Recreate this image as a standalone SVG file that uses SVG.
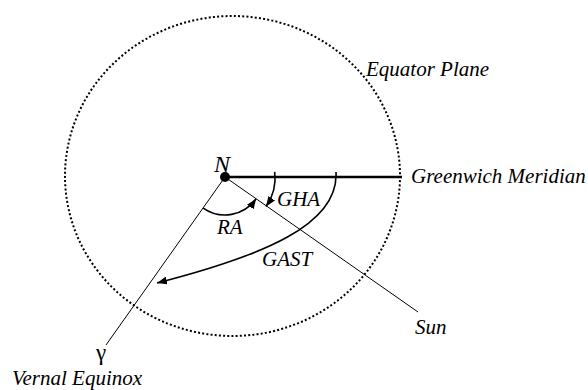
<svg xmlns="http://www.w3.org/2000/svg" width="588" height="390" viewBox="0 0 588 390">
<defs>
<marker id="ah" viewBox="0 0 10 8" refX="10" refY="4" markerWidth="10" markerHeight="8" markerUnits="userSpaceOnUse" orient="auto">
<path d="M0,0 L10,4 L0,8 Z" fill="#000"/>
</marker>
<style>
.t{font-family:"Liberation Serif","Times New Roman",serif;font-style:italic;font-size:21px;fill:#000}
.thin{stroke:#000;stroke-width:1;fill:none}
.arc{stroke:#000;stroke-width:1.6;fill:none}
</style>
</defs>
<rect width="588" height="390" fill="#fff"/>
<g id="equator">
<ellipse cx="232.5" cy="176" rx="167.5" ry="160" fill="none" stroke="#000" stroke-width="2" stroke-dasharray="2 2.2"/>
<text class="t" x="366" y="76">Equator Plane</text>
</g>
<g id="connectors">
<line class="thin" x1="225" y1="177" x2="106" y2="345"/>
<line class="thin" x1="225" y1="177" x2="418" y2="312"/>
<line x1="225" y1="177" x2="402" y2="177" stroke="#000" stroke-width="2.5"/>
<path class="arc" d="M203.2,208.1 A38,38 0 0 0 256.1,198.8" marker-end="url(#ah)"/>
<path class="arc" d="M274.7,171.8 A50,50 0 0 1 266,206.5" marker-end="url(#ah)"/>
<path class="arc" d="M336,172 C339,225 262,256 157,283" marker-end="url(#ah)"/>
</g>
<g id="north">
<circle cx="225" cy="177" r="5" fill="#000"/>
<text class="t" x="214" y="172" style="font-size:24px">N</text>
</g>
<g id="greenwich"><text class="t" x="411" y="183">Greenwich Meridian</text></g>
<g id="sun"><text class="t" x="415" y="334">Sun</text></g>
<g id="vernal">
<text x="96" y="360" style="font-family:'Liberation Serif','Times New Roman',serif;font-size:23px">γ</text>
<text class="t" x="12" y="385">Vernal Equinox</text>
</g>
<g id="labels">
<text class="t" x="277" y="206">GHA</text>
<text class="t" x="217" y="234">RA</text>
<text class="t" x="262" y="266">GAST</text>
</g>
</svg>
